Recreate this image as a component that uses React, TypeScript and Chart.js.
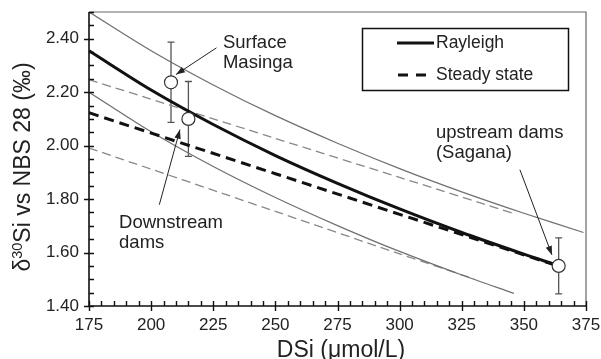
import React, { useEffect, useRef } from 'react';
import { Chart, registerables } from 'chart.js';
Chart.register(...registerables);

// ---- data ----
const xMin = 175, xMax = 375, xStep = 25, xMinor = 5;
const yMin = 1.4, yMax = 2.5, yStep = 0.2, yMinor = 0.05;

const rayleighX = [175, 200, 225, 250, 275, 300, 325, 350, 362];
const rayleighY = [2.355, 2.208, 2.079, 1.963, 1.859, 1.763, 1.675, 1.594, 1.557];
const rayleighUpperX = [175, 200, 225, 250, 275, 300, 325, 350, 374];
const rayleighUpperY = [2.5, 2.355, 2.227, 2.112, 2.009, 1.914, 1.827, 1.747, 1.675];
const rayleighLowerX = [175, 200, 225, 250, 275, 300, 325, 346];
const rayleighLowerY = [2.2, 2.052, 1.922, 1.806, 1.701, 1.604, 1.516, 1.447];

const steadyX = [175, 250, 300, 362];
const steadyY = [2.123, 1.895, 1.743, 1.555];
const steadyUpperX = [175, 250, 300, 347];
const steadyUpperY = [2.247, 2.027, 1.881, 1.743];
const steadyLowerX = [175, 250, 300, 330];
const steadyLowerY = [1.991, 1.754, 1.595, 1.501];

const sampleX = [208, 215, 364];
const sampleY = [2.237, 2.1, 1.55];
const sampleErr = [0.15, 0.14, 0.105];

const annotations = [
  { lines: ['Surface', 'Masinga'], x: 228.9, y: 2.386, from: [226.3, 2.366], to: [210.0, 2.266] },
  { lines: ['Downstream', 'dams'], x: 187.1, y: 1.711, from: [203.3, 1.779], to: [211.6, 2.06] },
  { lines: ['upstream dams', '(Sagana)'], x: 314.6, y: 2.049, from: [348.4, 1.91], to: [361.3, 1.591] },
];

const legendItems = ['Rayleigh', 'Steady state'];
const xTitle = 'DSi (μmol/L)';
const yTitleParts = ['δ', '30', 'Si vs NBS 28 (‰)'];

const FONT = '"Liberation Sans", Arial, sans-serif';

const zip = (xs: number[], ys: number[]) => xs.map((x, i) => ({ x, y: ys[i] }));

const decorPlugin = {
  id: 'decor',
  beforeDatasetsDraw(chart: any) {
    const { ctx, scales } = chart;
    const xs = scales.x, ys = scales.y;
    ctx.save();
    ctx.strokeStyle = '#555';
    ctx.lineWidth = 1.3;
    sampleX.forEach((x, i) => {
      const px = xs.getPixelForValue(x);
      const top = ys.getPixelForValue(sampleY[i] + sampleErr[i]);
      const bot = ys.getPixelForValue(sampleY[i] - sampleErr[i]);
      ctx.beginPath();
      ctx.moveTo(px, top); ctx.lineTo(px, bot);
      ctx.moveTo(px - 3.5, top); ctx.lineTo(px + 3.5, top);
      ctx.moveTo(px - 3.5, bot); ctx.lineTo(px + 3.5, bot);
      ctx.stroke();
    });
    ctx.restore();
  },
  afterDraw(chart: any) {
    const { ctx, scales, chartArea: ca } = chart;
    const xs = scales.x, ys = scales.y;
    ctx.save();
    // top & right frame
    ctx.strokeStyle = '#666';
    ctx.lineWidth = 1.2;
    ctx.beginPath();
    ctx.moveTo(ca.left, ca.top); ctx.lineTo(ca.right, ca.top); ctx.lineTo(ca.right, ca.bottom);
    ctx.stroke();
    // axes
    ctx.strokeStyle = '#111';
    ctx.lineWidth = 1.6;
    ctx.beginPath();
    ctx.moveTo(ca.left, ca.top); ctx.lineTo(ca.left, ca.bottom); ctx.lineTo(ca.right, ca.bottom);
    ctx.stroke();
    // ticks
    ctx.lineWidth = 1.4;
    ctx.beginPath();
    for (let v = xMin; v <= xMax + 0.001; v += xMinor) {
      const px = Math.round(xs.getPixelForValue(v)) + 0.5;
      const major = Math.abs(((v - xMin) / xStep) - Math.round((v - xMin) / xStep)) < 1e-6;
      ctx.moveTo(px, ca.bottom - 5);
      ctx.lineTo(px, major ? ca.bottom + 5 : ca.bottom);
    }
    for (let v = yMin; v <= yMax + 0.001; v += yMinor) {
      const py = Math.round(ys.getPixelForValue(v)) + 0.5;
      const major = Math.abs(((v - yMin) / yStep) - Math.round((v - yMin) / yStep)) < 1e-6;
      ctx.moveTo(ca.left + 5, py);
      ctx.lineTo(major ? ca.left - 5 : ca.left, py);
    }
    ctx.stroke();

    // annotations
    ctx.fillStyle = '#222';
    ctx.strokeStyle = '#222';
    ctx.font = `18.5px ${FONT}`;
    ctx.textBaseline = 'middle';
    ctx.textAlign = 'left';
    annotations.forEach((a) => {
      const px = xs.getPixelForValue(a.x);
      const py = ys.getPixelForValue(a.y);
      a.lines.forEach((t, i) => ctx.fillText(t, px, py + i * 20));
      const x1 = xs.getPixelForValue(a.from[0]), y1 = ys.getPixelForValue(a.from[1]);
      const x2 = xs.getPixelForValue(a.to[0]), y2 = ys.getPixelForValue(a.to[1]);
      ctx.lineWidth = 1;
      ctx.beginPath(); ctx.moveTo(x1, y1); ctx.lineTo(x2, y2); ctx.stroke();
      const ang = Math.atan2(y2 - y1, x2 - x1);
      const L = 9, W = 3.2;
      ctx.beginPath();
      ctx.moveTo(x2, y2);
      ctx.lineTo(x2 - L * Math.cos(ang) + W * Math.sin(ang), y2 - L * Math.sin(ang) - W * Math.cos(ang));
      ctx.lineTo(x2 - L * Math.cos(ang) - W * Math.sin(ang), y2 - L * Math.sin(ang) + W * Math.cos(ang));
      ctx.closePath(); ctx.fill();
    });

    // legend
    const lx = 362, ly = 28, lw = 206, lh = 62;
    ctx.lineWidth = 1.5;
    ctx.strokeStyle = '#111';
    ctx.strokeRect(lx + 0.5, ly + 0.5, lw, lh);
    ctx.lineWidth = 3;
    ctx.beginPath(); ctx.moveTo(397, 43); ctx.lineTo(434, 43); ctx.stroke();
    ctx.setLineDash([10, 8]);
    ctx.beginPath(); ctx.moveTo(398, 75); ctx.lineTo(431, 75); ctx.stroke();
    ctx.setLineDash([]);
    ctx.fillStyle = '#222';
    ctx.font = `17.5px ${FONT}`;
    ctx.fillText(legendItems[0], 436, 43);
    ctx.fillText(legendItems[1], 436, 75);

    // x title
    ctx.font = `23px ${FONT}`;
    ctx.textAlign = 'center';
    ctx.textBaseline = 'alphabetic';
    ctx.fillText(xTitle, 341, 357);

    // y title with superscript
    ctx.save();
    ctx.translate(30, 167);
    ctx.rotate(-Math.PI / 2);
    const big = `23px ${FONT}`, small = `14.5px ${FONT}`;
    ctx.font = big; const w0 = ctx.measureText(yTitleParts[0]).width;
    ctx.font = small; const w1 = ctx.measureText(yTitleParts[1]).width;
    ctx.font = big; const w2 = ctx.measureText(yTitleParts[2]).width;
    let sx = -(w0 + w1 + w2) / 2;
    ctx.textAlign = 'left';
    ctx.font = big; ctx.fillText(yTitleParts[0], sx, 0); sx += w0;
    ctx.font = small; ctx.fillText(yTitleParts[1], sx, -8); sx += w1;
    ctx.font = big; ctx.fillText(yTitleParts[2], sx, 0);
    ctx.restore();

    ctx.restore();
  },
};

export default function App() {
  const ref = useRef<HTMLCanvasElement>(null);
  useEffect(() => {
    document.body.style.margin = '0';
    const thin = { borderColor: '#707070', borderWidth: 1.3, pointRadius: 0, fill: false, tension: 0.3 };
    const chart = new Chart(ref.current!, {
      type: 'line',
      data: {
        datasets: [
          {
            type: 'scatter', label: 'samples', data: zip(sampleX, sampleY),
            pointRadius: 6.5, pointBackgroundColor: '#fff', pointBorderColor: '#333', pointBorderWidth: 1.2,
            showLine: false,
          } as any,
          { label: 'Rayleigh', data: zip(rayleighX, rayleighY), borderColor: '#111', borderWidth: 3, pointRadius: 0, tension: 0.3 },
          { label: 'Steady state', data: zip(steadyX, steadyY), borderColor: '#111', borderWidth: 3, borderDash: [10, 6], pointRadius: 0 },
          { label: 'R+', data: zip(rayleighUpperX, rayleighUpperY), ...thin },
          { label: 'R-', data: zip(rayleighLowerX, rayleighLowerY), ...thin },
          { label: 'S+', data: zip(steadyUpperX, steadyUpperY), ...thin, borderColor: '#888', borderDash: [9, 5] },
          { label: 'S-', data: zip(steadyLowerX, steadyLowerY), ...thin, borderColor: '#888', borderDash: [9, 5] },
        ],
      },
      options: {
        responsive: false,
        animation: false,
        parsing: false as any,
        layout: { padding: { top: 12, right: 15, left: 0, bottom: 0 } },
        plugins: { legend: { display: false }, tooltip: { enabled: false } },
        scales: {
          x: {
            type: 'linear', min: xMin, max: xMax,
            grid: { display: false, drawTicks: false },
            border: { display: false },
            ticks: { stepSize: xStep, padding: 9, color: '#222', font: { family: FONT, size: 17 }, maxRotation: 0 },
            afterFit: (s: any) => { s.height = 53; s.paddingLeft = 0; s.paddingRight = 0; },
          },
          y: {
            type: 'linear', min: yMin, max: yMax,
            grid: { display: false, drawTicks: false },
            border: { display: false },
            ticks: {
              stepSize: yStep, padding: 10, color: '#222', font: { family: FONT, size: 17 },
              callback: (v: any) => (Math.abs(v - yMax) < 1e-6 ? '' : Number(v).toFixed(2)),
            },
            afterFit: (s: any) => { s.width = 89; s.paddingTop = 0; s.paddingBottom = 0; },
          },
        },
      },
      plugins: [decorPlugin],
    });
    return () => chart.destroy();
  }, []);
  return (
    <div style={{ width: 601, height: 359 }}>
      <canvas ref={ref} width={601} height={359} />
    </div>
  );
}
